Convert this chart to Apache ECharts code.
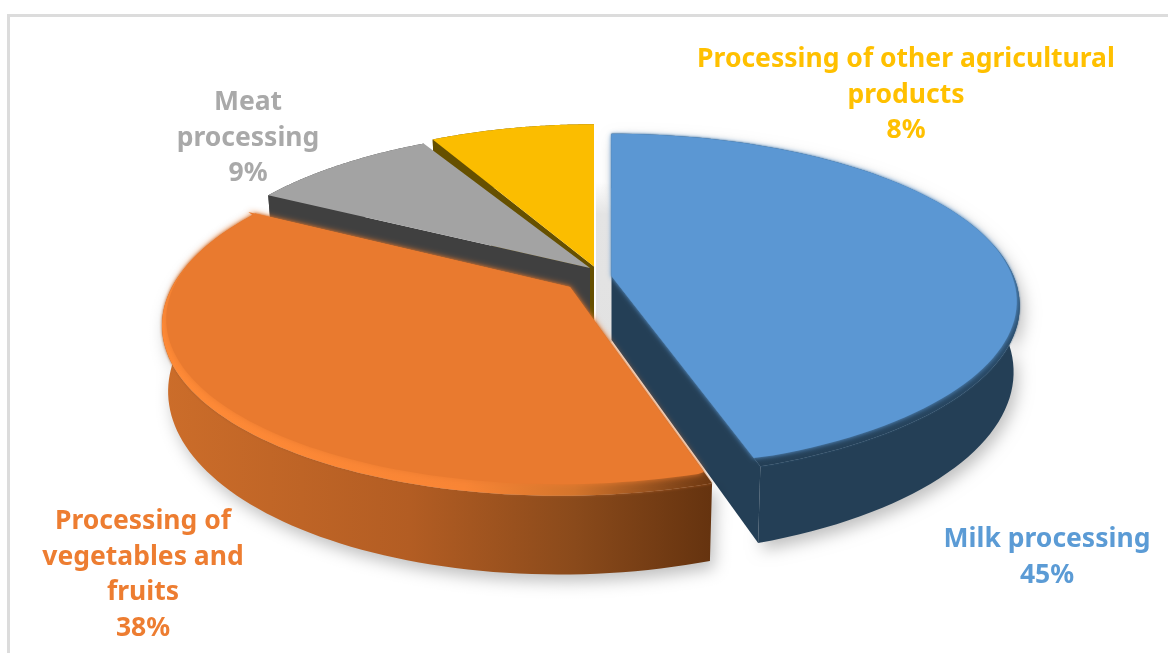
<!DOCTYPE html>
<html>
<head>
<meta charset="utf-8">
<style>html,body{margin:0;padding:0;background:#fff}#c{width:1168px;height:653px}</style>
<script src="https://cdn.jsdelivr.net/npm/echarts@6/dist/echarts.min.js"></script>
</head>
<body>
<div id="c"></div>
<script>
var categories = ['Milk processing', 'Processing of vegetables and fruits', 'Meat processing', 'Processing of other agricultural products'];
var shares = [45, 38, 9, 8];
var labelLines = [['Milk processing'], ['Processing of', 'vegetables and', 'fruits'], ['Meat', 'processing'], ['Processing of other agricultural', 'products']];

// Presentation only: projected disc, per-slice explosion, colours and label anchors.
var disc = { a: 402, b: 167, lower: 0.985 };
var looks = [
  { ax: 611.5, ay: 276, k: 0.174, sx: 1, sy: 1, depth: 64, shear: 0, order: 30, top: '#5b97d3', wall: '#243f56', inner: '#243f56', text: '#5b9bd5', lx: 1047, ly: 539.5,
    rim: [[0, '#5b97d3'], [0.3, '#3e6f9a'], [0.6, '#2a4d6c'], [1, '#243f56']], rimV: true, inset: 0.993, bevel: 7, blur: 5, rimBlur: 2, rimShadow: '#2f5575' },
  { ax: 570, ay: 287, k: 0.2, sx: 0.99, sy: 1, depth: 63, shear: -0.05, order: 40, top: '#e97a2f', wall: 'orange', inner: null, text: '#ed7d31', lx: 143, ly: 521.5,
    rim: [[0, '#ff8a36'], [0.55, '#f98535'], [0.75, '#d4752c'], [0.92, '#8a4a1b'], [1, '#6e3811']], rimV: false, inset: 0.99, bevel: 9, blur: 6, rimBlur: 3, rimShadow: '#a85a24' },
  { ax: 590, ay: 268, k: 0.174, sx: 0.99, sy: 0.98, depth: 67, shear: 0, order: 20, top: '#a3a3a3', wall: '#404040', inner: '#404040', text: '#a9a9a9', lx: 248, ly: 102.5,
    rim: [[0, '#a3a3a3'], [1, '#a3a3a3']], rimV: false, inset: 1, bevel: 0, blur: 0 },
  { ax: 594, ay: 266.5, k: 0.174, sx: 0.96, sy: 1, depth: 67, shear: 0, order: 10, top: '#fbbd00', wall: '#665000', inner: '#665000', text: '#ffc000', lx: 906, ly: 59.5,
    rim: [[0, '#fbbd00'], [1, '#fbbd00']], rimV: false, inset: 1, bevel: 0, blur: 0 }
];
var innerEdge = [1, null, 0, 0]; // which straight edge of each slice faces the viewer
var lineGap = 35.5;

var total = shares.reduce(function (s, v) { return s + v; }, 0);
function toRad(v) { return v / total * Math.PI * 2; }
function project(g, th, r, lowerPlane, bevel) {
  var X = r * Math.sin(th), Y = r * Math.cos(th), w = 1 + g.k * Y;
  var x = disc.a * g.sx * X / w, y = -disc.b * g.sy * Y / w;
  x += g.shear * y;
  if (lowerPlane) { x *= disc.lower; y += g.depth / w; }
  if (bevel) { y -= bevel * (1 - Y) / 2; }
  return [g.ax + x, g.ay + y];
}
function arc(g, a0, a1, r, lowerPlane, bevel) {
  var pts = [], n = 90;
  for (var i = 0; i <= n; i++) pts.push(project(g, a0 + (a1 - a0) * i / n, r, lowerPlane, bevel));
  return pts;
}
// Point on a straight slice edge at the same height as a bevelled rim point.
function edgeAt(g, th, y) {
  var p = project(g, th, 1, false), f = (y - g.ay) / (p[1] - g.ay);
  return [g.ax + (p[0] - g.ax) * f, y];
}
function renderSlice(params, api) {
  var i = params.dataIndex, g = looks[i], before = 0;
  for (var j = 0; j < i; j++) before += shares[j];
  var a0 = toRad(before), a1 = toRad(before + api.value(0));
  var kids = [], LG = echarts.graphic.LinearGradient;
  var ribbon = arc(g, a0, a1, 1, false).concat(arc(g, a0, a1, 1, true).reverse());
  var wallFill = g.wall === 'orange'
    ? new LG(0, 0, 1, 0, [{ offset: 0, color: '#cc6d2a' }, { offset: 0.45, color: '#b35d23' }, { offset: 0.75, color: '#8a4a1b' }, { offset: 1, color: '#65330f' }])
    : g.wall;
  var ribbonStyle = { fill: wallFill };
  if (i < 2) { ribbonStyle.shadowBlur = 16; ribbonStyle.shadowColor = 'rgba(0,0,0,0.25)'; ribbonStyle.shadowOffsetY = 7; ribbonStyle.shadowOffsetX = 4; }
  kids.push({ type: 'polygon', z2: g.order, shape: { points: ribbon }, style: ribbonStyle });
  if (innerEdge[i] !== null) {
    var th = innerEdge[i] === 1 ? a1 : a0;
    var o = [g.ax, g.ay], ol = project(g, 0, 0, true);
    kids.push({ type: 'polygon', z2: g.order + 1,
      shape: { points: [o, project(g, th, 1, false), project(g, th, 1, true), ol] },
      style: { fill: g.inner } });
  }
  var full = [[g.ax, g.ay]].concat(arc(g, a0, a1, 1, false));
  var stops = g.rim.map(function (s) { return { offset: s[0], color: s[1] }; });
  var rimStyle = { fill: new LG(0, 0, g.rimV ? 0 : 1, g.rimV ? 1 : 0, stops) };
  if (g.rimBlur) { rimStyle.shadowBlur = g.rimBlur; rimStyle.shadowColor = g.rimShadow; }
  kids.push({ type: 'polygon', z2: g.order + 2, shape: { points: full }, style: rimStyle });
  if (g.bevel) {
    var rimPts = arc(g, a0, a1, g.inset, false, g.bevel);
    rimPts[0] = edgeAt(g, a0, rimPts[0][1]);
    rimPts[rimPts.length - 1] = edgeAt(g, a1, rimPts[rimPts.length - 1][1]);
    kids.push({ type: 'polygon', z2: g.order + 3, shape: { points: [[g.ax, g.ay]].concat(rimPts) },
      style: { fill: g.top, shadowBlur: g.blur, shadowColor: g.top } });
  }
  var lines = labelLines[i].concat([api.value(0) + '%']);
  lines.forEach(function (t, n) {
    kids.push({ type: 'text', z2: 100, style: { text: t, x: g.lx, y: g.ly + n * lineGap, fill: g.text,
      font: 'bold 26.5px "Noto Sans"', align: 'center', verticalAlign: 'middle' } });
  });
  return { type: 'group', children: kids };
}
var chart = echarts.init(document.getElementById('c'), null, { renderer: 'canvas' });
chart.setOption({
  animation: false,
  backgroundColor: '#ffffff',
  graphic: [
    { type: 'rect', z: 0, shape: { x: 596, y: 182, width: 16, height: 160 },
      style: { fill: new echarts.graphic.LinearGradient(0, 0, 0, 1, [{ offset: 0, color: '#ffffff' }, { offset: 0.2, color: '#e4e4e4' }, { offset: 1, color: '#e2e2e2' }]) } },
    { type: 'polyline', z: 0, shape: { points: [[8.5, 653], [8.5, 15.5], [1168, 15.5]] },
      style: { fill: null, stroke: '#dcdcdc', lineWidth: 3 } }
  ],
  series: [{
    type: 'custom',
    coordinateSystem: 'none',
    silent: true,
    renderItem: renderSlice,
    data: shares.map(function (v, i) { return { name: categories[i], value: [v] }; })
  }]
});
</script>
</body>
</html>
